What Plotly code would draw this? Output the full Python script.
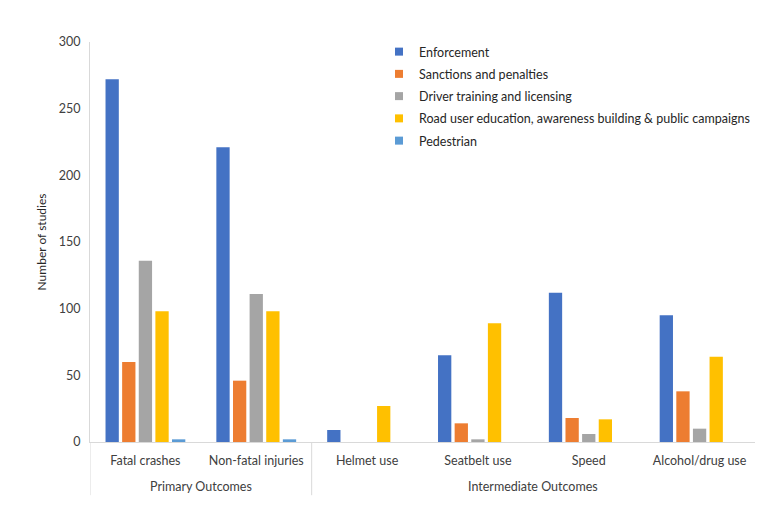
import plotly.graph_objects as go

outcomes = ["Fatal crashes", "Non-fatal injuries", "Helmet use",
            "Seatbelt use", "Speed", "Alcohol/drug use"]
group_names = ["Primary Outcomes", "Intermediate Outcomes"]
group_centers = [0.5, 3.5]  # middle of each outcome group on the category axis

enforcement = [272, 221, 9, 65, 112, 95]
sanctions = [60, 46, 0, 14, 18, 38]
driver_training = [136, 111, 0, 2, 6, 10]
road_user_edu = [98, 98, 27, 89, 17, 64]
pedestrian = [2, 2, 0, 0, 0, 0]

series = [
    ("Enforcement", enforcement, "#4472C4"),
    ("Sanctions and penalties", sanctions, "#ED7D31"),
    ("Driver training and licensing", driver_training, "#A5A5A5"),
    ("Road user education, awareness building & public campaigns", road_user_edu, "#FFC000"),
    ("Pedestrian", pedestrian, "#5B9BD5"),
]

fig = go.Figure()
for name, vals, col in series:
    fig.add_trace(go.Bar(x=outcomes, y=vals, name=name, showlegend=False,
                         marker=dict(color=col, line=dict(width=0))))

# small square legend keys, like the original
for name, vals, col in series:
    fig.add_trace(go.Scatter(x=[None], y=[None], name=name, mode="markers",
                             legendgroup=name,
                             marker=dict(symbol="square", size=8, color=col)))

# group labels under the outcome labels
for g, c in zip(group_names, group_centers):
    fig.add_annotation(x=c, y=-0.11, xref="x", yref="paper", text=g, showarrow=False,
                       font=dict(size=12.5, color="#404040"), yanchor="middle")

# divider lines of the two-level axis
for xd in [-0.5, 1.5]:
    fig.add_shape(type="line", x0=xd, x1=xd, xref="x", y0=0, y1=-0.133, yref="paper",
                  line=dict(color="#D9D9D9", width=1))

fig.update_layout(
    width=784, height=518,
    barmode="group", bargap=0.25, bargroupgap=0.2,
    plot_bgcolor="white", paper_bgcolor="white",
    font=dict(family="Lato", size=12.5, color="#404040"),
    margin=dict(l=82, r=37, t=34, b=84),
    legend=dict(x=0.4346, y=1.0125, xanchor="left", yanchor="top",
                font=dict(size=12.5, color="#262626"), tracegroupgap=3,
                itemwidth=30, bgcolor="rgba(0,0,0,0)"),
    xaxis=dict(showline=True, linecolor="#D9D9D9", ticks="", tickangle=0,
               automargin=False, ticklabelstandoff=7, range=[-0.5, 5.5],
               tickfont=dict(size=12.5, color="#404040")),
    yaxis=dict(range=[0, 300], dtick=50, showgrid=False, showline=True,
               linecolor="#D9D9D9", ticks="", zeroline=False, automargin=False,
               ticklabelstandoff=6,
               title=dict(text="Number of studies", font=dict(size=12, color="#262626"), standoff=9),
               tickfont=dict(size=12.5, color="#404040")),
    showlegend=True,
)

fig.write_html("out.html")
